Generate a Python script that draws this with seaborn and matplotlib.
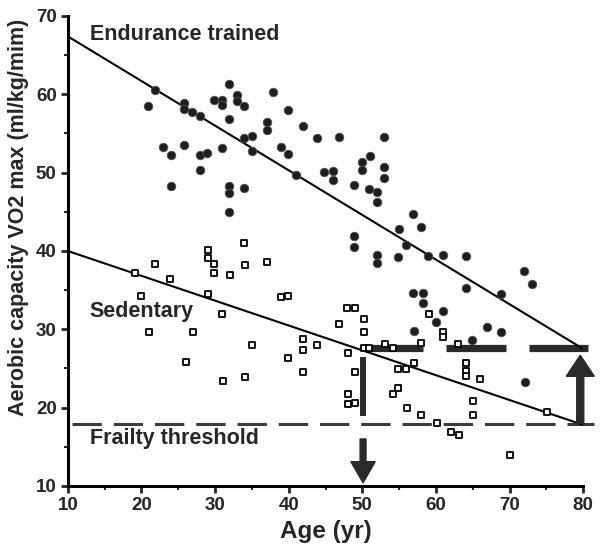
import numpy as np
import pandas as pd
import matplotlib
matplotlib.use("Agg")
import matplotlib.pyplot as plt
import seaborn as sns

# data
trained_age = [20.9, 21.8, 22.9, 24.0, 24.0, 25.8, 25.8, 25.8, 26.9, 27.9, 27.9, 27.9, 28.9,
               29.8, 30.9, 31.0, 31.0, 31.9, 31.9, 31.9, 31.9, 31.9, 33.0, 33.0, 33.9, 33.9,
               33.9, 35.0, 35.0, 37.1, 37.1, 37.9, 39.0, 39.9, 39.9, 41.0, 41.9, 43.8, 46.9,
               44.8, 46.0, 46.0, 48.9, 50.0, 50.0, 51.0, 50.9, 52.0, 52.0, 52.9, 52.9, 52.9,
               56.9, 55.0, 58.0, 56.0, 48.9, 48.9, 52.0, 52.0, 54.9, 58.9, 61.0, 64.1, 72.0,
               73.0, 64.1, 68.9, 56.9, 58.2, 58.2, 61.0, 60.0, 57.0, 67.0, 68.9, 64.9, 72.1]
trained_vo2 = [58.5, 60.5, 53.3, 52.3, 48.3, 58.9, 58.1, 53.5, 57.7, 57.2, 52.2, 50.4, 52.5,
               59.3, 53.2, 59.3, 58.6, 61.3, 56.9, 48.3, 47.4, 45.0, 59.9, 59.1, 58.5, 54.4,
               48.1, 54.7, 52.8, 56.5, 55.5, 60.3, 53.3, 52.4, 58.0, 49.7, 55.9, 54.4, 54.6,
               50.1, 50.2, 49.1, 48.4, 51.3, 50.3, 52.1, 47.9, 47.5, 46.3, 54.6, 50.7, 49.3,
               44.7, 42.8, 43.0, 40.7, 41.9, 40.5, 39.5, 38.5, 39.2, 39.4, 39.5, 39.4, 37.4,
               35.8, 35.3, 34.5, 34.6, 34.6, 33.4, 32.4, 30.9, 29.8, 30.3, 29.7, 28.6, 23.3]

sedentary_age = [19.1, 20.0, 21.9, 23.9, 21.0, 29.0, 29.0, 29.9, 29.9, 32.0, 29.0, 31.0, 27.0,
                 26.0, 31.1, 34.0, 35.0, 37.0, 34.0, 33.9, 39.0, 39.9, 39.9, 42.0, 42.0, 43.9,
                 42.0, 46.9, 47.9, 49.0, 50.2, 50.2, 48.0, 49.0, 48.0, 48.0, 49.0, 50.2, 50.9,
                 53.1, 54.2, 58.0, 59.0, 60.9, 60.9, 63.0, 54.8, 56.0, 57.0, 64.1, 64.1, 64.1,
                 66.0, 54.9, 54.2, 56.1, 58.0, 65.0, 65.0, 60.1, 62.1, 63.1, 70.1, 75.1]
sedentary_vo2 = [37.2, 34.3, 38.3, 36.4, 29.6, 40.1, 39.1, 38.3, 37.2, 36.9, 34.5, 32.0, 29.7,
                 25.8, 23.4, 23.9, 28.0, 38.6, 38.2, 41.0, 34.1, 34.3, 26.4, 28.8, 27.4, 28.0,
                 24.5, 30.7, 32.7, 32.7, 31.3, 29.7, 27.0, 24.5, 21.7, 20.5, 20.6, 27.6, 27.6,
                 28.1, 27.6, 28.3, 32.0, 29.6, 29.0, 28.1, 24.9, 24.9, 25.7, 25.7, 24.7, 24.0,
                 23.6, 22.5, 21.8, 20.0, 19.1, 20.9, 19.1, 18.0, 16.9, 16.5, 14.0, 19.5]

# fitted lines (end points)
fit_age = [10, 80]
trained_fit = [67.4, 27.5]
sedentary_fit = [40.0, 17.8]

frailty = 17.9
trained_at_80 = 27.6

trained = pd.DataFrame({"age": trained_age, "vo2": trained_vo2})
sedentary = pd.DataFrame({"age": sedentary_age, "vo2": sedentary_vo2})

sns.set_style("ticks")
plt.rcParams["font.family"] = ["Liberation Sans", "DejaVu Sans"]
plt.rcParams["font.weight"] = "bold"

fig = plt.figure(figsize=(6, 5.51), dpi=100)
ax = fig.add_axes([0.113, 0.118, 0.859, 0.853])

dark = "#2a2a2a"
sns.scatterplot(data=trained, x="age", y="vo2", ax=ax, marker="o", s=38,
                color="#1e1e1e", edgecolor="#555555", linewidth=0.6, zorder=3)
sns.scatterplot(data=sedentary, x="age", y="vo2", ax=ax, marker="s", s=15,
                color="white", edgecolor="black", linewidth=1.3, zorder=3)

ax.plot(fit_age, trained_fit, color="black", lw=1.5, zorder=2)
ax.plot(fit_age, sedentary_fit, color="black", lw=1.5, zorder=2)

# frailty threshold
ax.plot([10.6, 81.5], [frailty, frailty], color="#3c3c3c", lw=2.2,
        linestyle=(0, (9.6, 3.9)), clip_on=False, zorder=1)

# thick dashed level of trained at 80
for x0, x1 in [(50.4, 58.3), (61.4, 69.5), (72.6, 80.7)]:
    ax.plot([x0, x1], [trained_at_80, trained_at_80], color=dark, lw=5.2,
            solid_capstyle="butt", clip_on=False, zorder=1)

# vertical bar at 50
ax.plot([50.1, 50.1], [26.5, 18.9], color=dark, lw=4.3, solid_capstyle="butt", zorder=1)

# arrows
ax.arrow(50.1, 16.0, 0, -5.6, width=0.8, head_width=3.3, head_length=2.7,
         length_includes_head=True, color=dark, clip_on=False, zorder=4)
ax.arrow(79.6, 18.0, 0, 8.7, width=0.95, head_width=3.8, head_length=2.7,
         length_includes_head=True, color=dark, clip_on=False, zorder=4)

ax.text(13.0, 67.6, "Endurance trained", fontsize=15.5, fontweight="bold", va="center")
ax.text(13.0, 32.3, "Sedentary", fontsize=15.5, fontweight="bold", va="center")
ax.text(13.0, 16.1, "Frailty threshold", fontsize=15.5, fontweight="bold", va="center")

ax.set_xlim(10, 80)
ax.set_ylim(10, 70)
ax.set_xticks(range(10, 81, 10))
ax.set_yticks(range(10, 71, 10))
ax.set_xticks(range(15, 80, 10), minor=True)
ax.set_yticks(range(15, 70, 10), minor=True)
ax.tick_params(which="major", length=5, width=2, labelsize=13.5, pad=3)
ax.tick_params(which="minor", length=3, width=1.5)
for lab in ax.get_xticklabels() + ax.get_yticklabels():
    lab.set_fontweight("bold")

ax.set_xlabel("Age (yr)", fontsize=17.5, fontweight="bold", labelpad=4)
ax.set_ylabel("Aerobic capacity VO2 max (ml/kg/mim)", fontsize=15.5, fontweight="bold", labelpad=4)
ax.yaxis.set_label_coords(-0.076, 0.572)

sns.despine(ax=ax)
for side in ["left", "bottom"]:
    ax.spines[side].set_linewidth(2.2)
    ax.spines[side].set_color("black")

fig.savefig("out.png", dpi=100)
